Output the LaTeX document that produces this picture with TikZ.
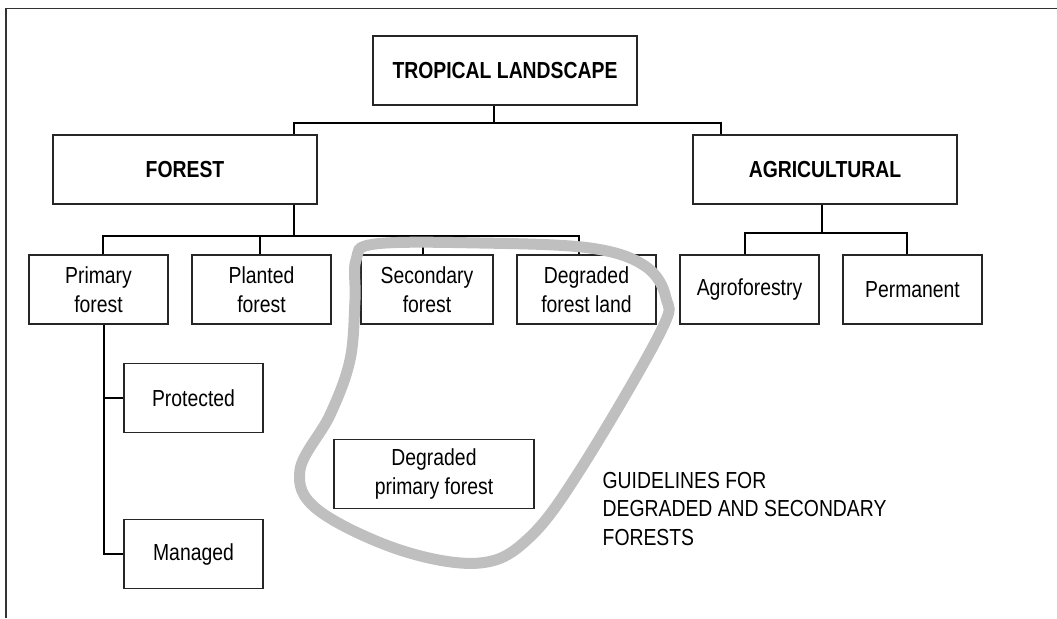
\documentclass[tikz,border=0pt]{standalone}
\usepackage{fontspec}
\setmainfont{Liberation Sans}[FakeStretch=0.835]
\begin{document}
\begin{tikzpicture}[x=0.75pt,y=-0.75pt,line width=1pt]
    \tikzstyle{box}=[draw=black!85,shape=rectangle,inner sep=0pt,minimum height=51.75pt,align=center,font=\fontsize{17.4}{21.4}\selectfont];
    \tikzstyle{big}=[minimum width=198pt,font=\fontsize{17.4}{21.4}\selectfont\bfseries];
    \tikzstyle{small}=[minimum width=104.25pt];
    \useasboundingbox (0,0) rectangle (1057,618);
    \draw[black!80,line width=1.1pt] (1057,8.5) -- (6,8.5) -- (6,618);

    \node at (505, 70.5) (land) [box,big] {TROPICAL LANDSCAPE};
    \node at (185, 169.5) (forest) [box,big] {FOREST};
    \node at (825, 169.5) (agri) [box,big] {AGRICULTURAL};
    \node at (98.5, 289.5) (primary) [box,small] {Primary\\forest};
    \node at (261.5, 289.5) (planted) [box,small] {Planted\\forest};
    \node at (427, 289.5) (secondary) [box,minimum width=99pt] {Secondary\\forest};
    \node at (586.5, 289.5) (degland) [box,small] {Degraded\\forest land};
    \node at (749.5, 289.5) (agro) [box,small] {Agroforestry};
    \node at (912.5, 289.5) (perm) [box,small] {Permanent};
    \node at (193.5, 398) (protected) [box,small] {Protected};
    \node at (193.5, 554) (managed) [box,small] {Managed};
    \node at (434, 474) (degprim) [box,minimum width=150pt] {Degraded\\primary forest};
    \node at (602, 509) (guide) [anchor=west,align=left,inner sep=0pt,font=\fontsize{17.4}{21.4}\selectfont] {GUIDELINES FOR\\DEGRADED AND SECONDARY\\FORESTS};

    \coordinate (top) at (494, 123);
    \draw (land.south -| top) to (top);
    \draw (forest.north -| 294,0) |- (top) -| (agri.north -| 721,0);
    \coordinate (fbar) at (294, 236);
    \draw (forest.south -| fbar) to (fbar);
    \draw (primary.north -| 103,0) |- (fbar) -| (degland.north -| 579,0);
    \draw (planted.north -| 260,0) to (fbar -| 260,0);
    \draw (secondary.north -| 423,0) to (fbar -| 423,0);
    \coordinate (abar) at (822, 233);
    \draw (agri.south -| abar) to (abar);
    \draw (agro.north -| 745,0) |- (abar) -| (perm.north -| 907,0);
    \draw (primary.south -| 104,0) |- (protected.west);
    \draw (primary.south -| 104,0) |- (managed.west);

    \draw[gray!50,line width=8.25pt] plot[smooth cycle,tension=0.6] coordinates {(355,300) (350,360) (330,415) (300,470) (318,510) (400,550) (480,563) (530,537) (582,467) (660,333) (666,298) (645,266) (590,248) (480,243) (375,244) (356,260)};
\end{tikzpicture}
\end{document}
